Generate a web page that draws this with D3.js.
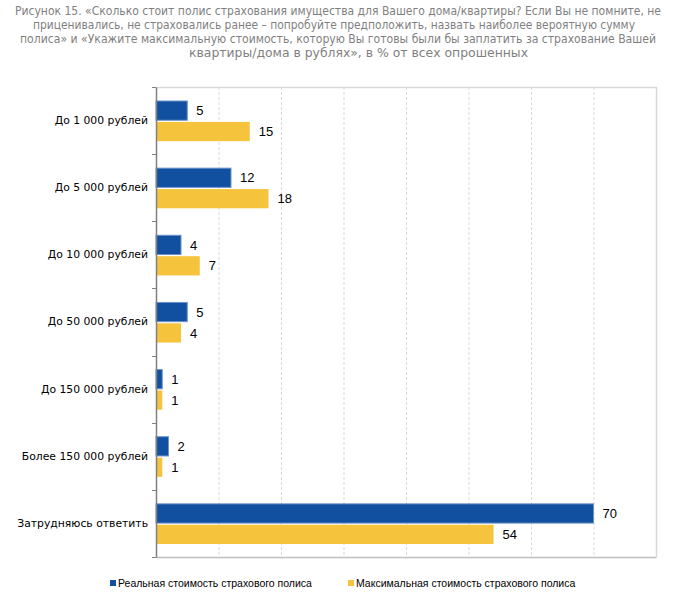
<!DOCTYPE html>
<html>
<head>
<meta charset="utf-8">
<script src="https://cdn.jsdelivr.net/npm/d3@7/dist/d3.min.js"></script>
<style>
	body { margin: 0; background: #fff; }
	svg { display: block; }
</style>
</head>
<body>
<svg id="chart" width="673" height="598"></svg>
<script>
var categories = ["До 1 000 рублей", "До 5 000 рублей", "До 10 000 рублей", "До 50 000 рублей",
	"До 150 000 рублей", "Более 150 000 рублей", "Затрудняюсь ответить"];
var realCost = [5, 12, 4, 5, 1, 2, 70];
var maxCost = [15, 18, 7, 4, 1, 1, 54];
var seriesNames = ["Реальная стоимость страхового полиса", "Максимальная стоимость страхового полиса"];
var xTicks = [0, 10, 20, 30, 40, 50, 60, 70, 80];
var titleLines = [
	"Рисунок 15. «Сколько стоит полис страхования имущества для Вашего дома/квартиры? Если Вы не помните, не",
	"приценивались, не страховались ранее – попробуйте предположить, назвать наиболее вероятную сумму",
	"полиса» и «Укажите максимальную стоимость, которую Вы готовы были бы заплатить за страхование Вашей",
	"квартиры/дома в рублях», в % от всех опрошенных"
];
// left edge and width of each title line
var titleX = [15, 33, 20, 189];
var titleWidths = [646, 602, 636, 339];

var colors = ["#1150a0", "#f5c33c"];

var svg = d3.select("#chart");
var margin = { top: 87, right: 17, bottom: 41, left: 156 };
var width = 673 - margin.left - margin.right;
var height = 598 - margin.top - margin.bottom;

// title
svg.append("g")
	.selectAll("text")
	.data(titleLines)
	.join("text")
	.attr("x", (d, i) => titleX[i])
	.attr("y", (d, i) => 15 + i * 14)
	.attr("textLength", (d, i) => titleWidths[i])
	.attr("lengthAdjust", "spacingAndGlyphs")
	.style("font-family", "'DejaVu Sans Condensed', 'DejaVu Sans', sans-serif")
	.style("font-size", "12px")
	.style("fill", "#7f7f7f")
	.text(d => d);

var G = svg.append("g").attr("transform", "translate(" + margin.left + "," + margin.top + ")");

var xScale = d3.scaleLinear().domain([0, 80]).range([0, width]);
var yScale = d3.scaleBand().domain(categories).range([0, height]);
var inner = d3.scaleBand().domain([0, 1]).range([14, yScale.bandwidth() - 13]).paddingInner(0.08);

// grid
G.append("g")
	.selectAll("line")
	.data(xTicks.slice(1, -1))
	.join("line")
	.attr("x1", d => xScale(d) + 0.5)
	.attr("x2", d => xScale(d) + 0.5)
	.attr("y1", 0)
	.attr("y2", height)
	.attr("stroke", "#d9d9d9")
	.attr("stroke-dasharray", "3,2");

// frame top/right
G.append("path")
	.attr("d", "M0,0.5H" + (width + 0.5) + "V" + height)
	.attr("fill", "none")
	.attr("stroke", "#d9d9d9")
	.attr("stroke-width", 1.5);

// bottom axis
G.append("g")
	.attr("transform", "translate(0," + height + ")")
	.call(d3.axisBottom(xScale).tickValues([]).tickSizeOuter(0))
	.call(g => g.select(".domain").attr("stroke", "#bfbfbf").attr("stroke-width", 1.5));

// bars
var rows = categories.map((c, i) => ({ cat: c, vals: [realCost[i], maxCost[i]] }));
var groups = G.selectAll(".row")
	.data(rows)
	.join("g")
	.attr("class", "row")
	.attr("transform", d => "translate(0," + yScale(d.cat) + ")");

groups.selectAll("rect")
	.data(d => d.vals)
	.join("rect")
	.attr("x", 0)
	.attr("y", (d, i) => inner(i))
	.attr("width", d => xScale(d))
	.attr("height", inner.bandwidth())
	.attr("fill", (d, i) => colors[i])
	.attr("stroke", (d, i) => i == 0 ? "#6f93c9" : "none")
	.attr("stroke-width", 1);

groups.selectAll("text")
	.data(d => d.vals)
	.join("text")
	.attr("x", d => xScale(d) + 9)
	.attr("y", (d, i) => inner(i) + inner.bandwidth() / 2)
	.attr("dy", "0.36em")
	.style("font-family", "'Liberation Sans', Arial, sans-serif")
	.style("font-size", "13px")
	.style("fill", "#000")
	.text(d => d);

// left axis
var yAxis = G.append("g")
	.call(d3.axisLeft(yScale).tickSize(0).tickPadding(8).tickSizeOuter(0));
yAxis.select(".domain").attr("stroke", "#808080").attr("stroke-width", 1.5);
yAxis.selectAll("text")
	.style("font-family", "'DejaVu Sans', Verdana, sans-serif")
	.style("font-size", "10.8px")
	.style("fill", "#000");

// boundary tick marks
G.append("g")
	.selectAll("line")
	.data(d3.range(categories.length + 1))
	.join("line")
	.attr("x1", -4)
	.attr("x2", 0)
	.attr("y1", d => Math.round(d * yScale.step()) + 0.5)
	.attr("y2", d => Math.round(d * yScale.step()) + 0.5)
	.attr("stroke", "#808080");

// legend
var legendX = [110, 348];
var legend = svg.append("g")
	.selectAll("g")
	.data(seriesNames)
	.join("g")
	.attr("transform", (d, i) => "translate(" + legendX[i] + ",580)");
legend.append("rect")
	.attr("width", 6)
	.attr("height", 6)
	.attr("fill", (d, i) => colors[i]);
legend.append("text")
	.attr("x", 8)
	.attr("y", 3)
	.attr("dy", "0.36em")
	.style("font-family", "'Liberation Sans', Arial, sans-serif")
	.style("font-size", "10.5px")
	.style("fill", "#000")
	.text(d => d);
</script>
</body>
</html>
